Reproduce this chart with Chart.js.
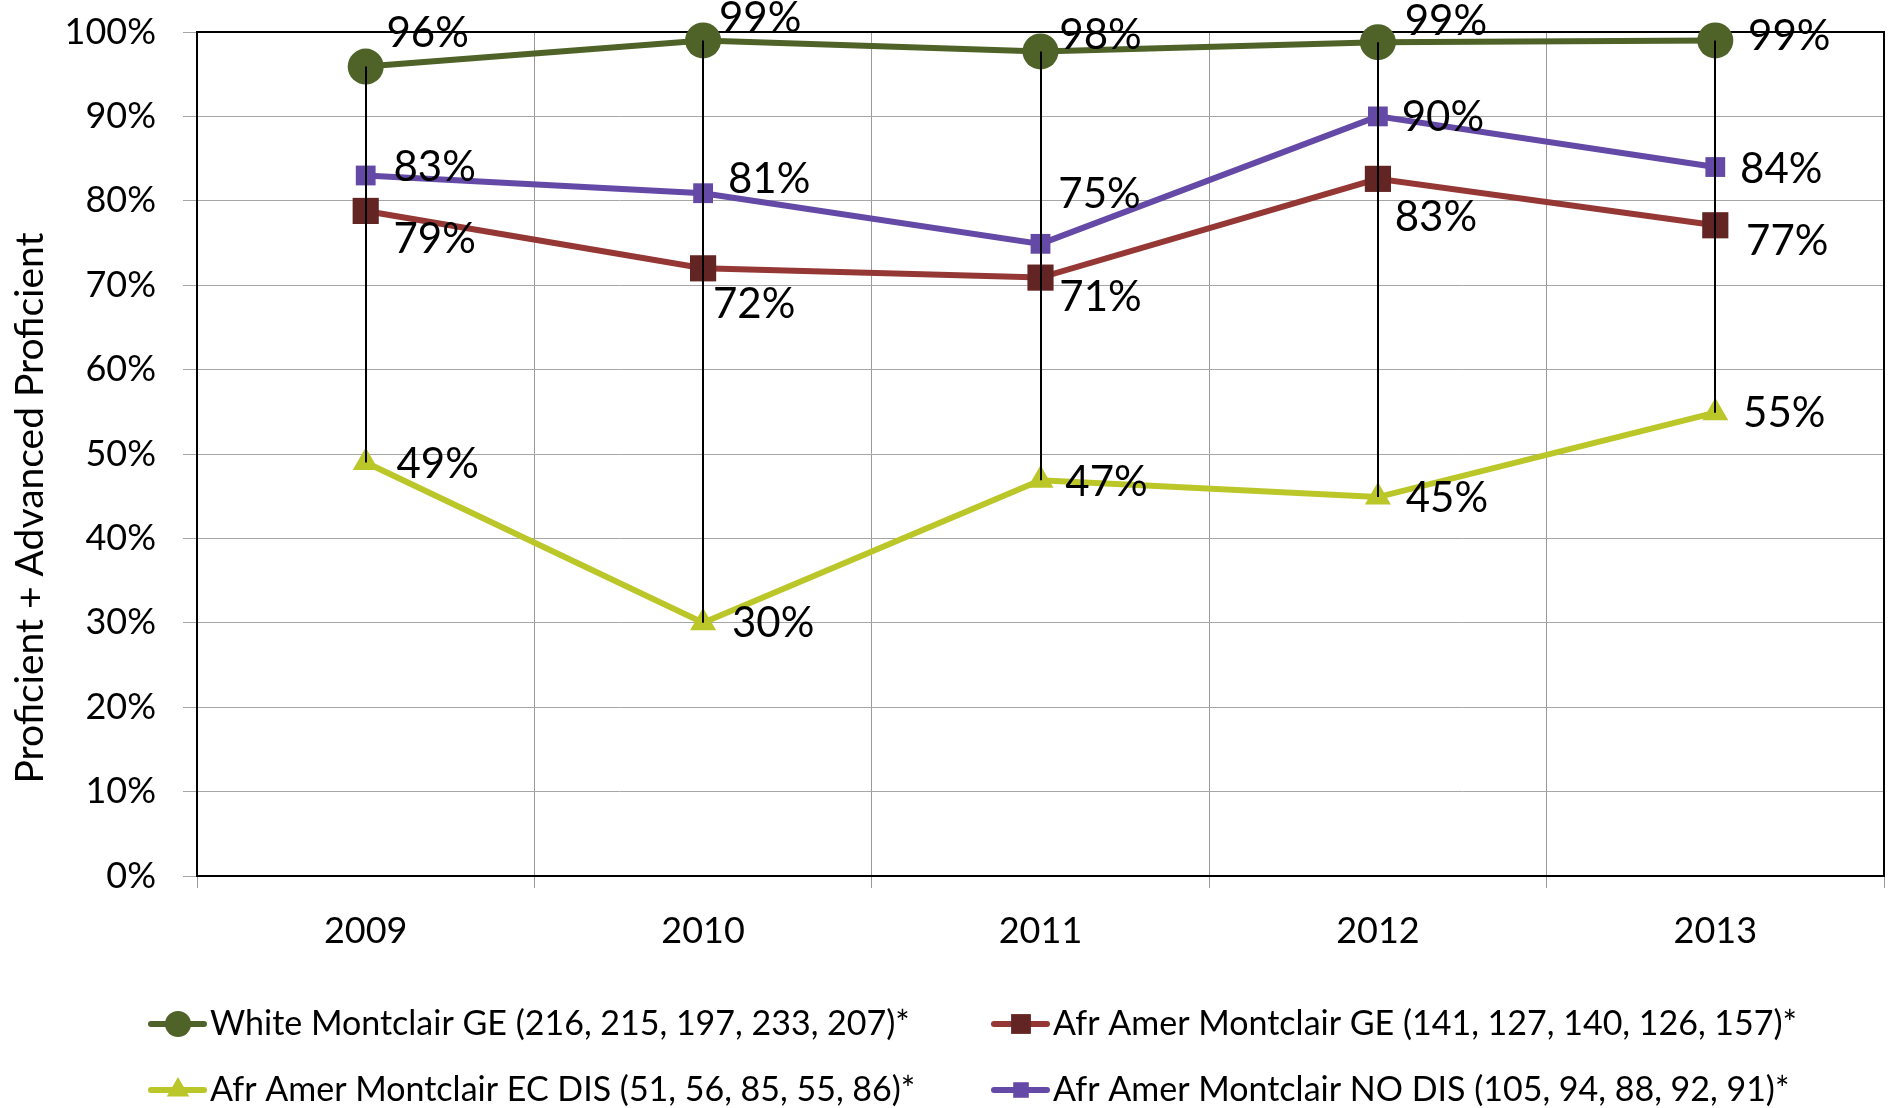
<!DOCTYPE html>
<html>
<head>
<meta charset="utf-8">
<script src="https://cdn.jsdelivr.net/npm/chart.js@4/dist/chart.umd.min.js"></script>
<style>
  html, body { margin: 0; padding: 0; background: #fff; }
  #wrap { width: 1891px; height: 1108px; }
</style>
</head>
<body>
<div id="wrap"><canvas id="c" width="1891" height="1108"></canvas></div>
<script>
// data
const years = ['2009', '2010', '2011', '2012', '2013'];
const whiteGE = [95.9, 99.0, 97.7, 98.8, 99.0];
const afrGE = [78.8, 72.0, 70.9, 82.6, 77.1];
const afrEcDis = [49.0, 30.0, 46.9, 44.9, 54.9];
const afrNoDis = [83.0, 80.9, 74.9, 90.0, 84.0];
const seriesNames = [
    'White Montclair GE (216, 215, 197, 233, 207)*',
    'Afr Amer Montclair GE (141, 127, 140, 126, 157)*',
    'Afr Amer Montclair EC DIS (51, 56, 85, 55, 86)*',
    'Afr Amer Montclair NO DIS (105, 94, 88, 92, 91)*'
];
const yTicks = [0, 10, 20, 30, 40, 50, 60, 70, 80, 90, 100];
const yTitle = 'Proficient + Advanced Proficient';

const FONT = 'Lato, "Open Sans", sans-serif';

// label nudges (px) per series / point, as placed in the original
const labelNudge = [
    [[62, -33], [57, -22], [60, -16], [68, -21], [74, -4]],
    [[69, 29], [51, 36], [60, 20], [58, 39], [72, 16]],
    [[72, 2], [70, 1], [66, 2], [69, 1], [69, 1]],
    [[69, -8], [66, -14], [59, -49], [65, 1], [66, 2]]
];

const styles = [
    { line: '#4F6228', fill: '#4F6228', shape: 'circle', r: 18, lr: 13 },
    { line: '#953735', fill: '#632523', shape: 'rect', r: 18.5, lr: 14 },
    { line: '#BBC628', fill: '#BBC628', shape: 'triangle', r: 15, lr: 13 },
    { line: '#6449A6', fill: '#6449A6', shape: 'rect', r: 14, lr: 11 }
];
const allSeries = [whiteGE, afrGE, afrEcDis, afrNoDis];

function drawMarker(ctx, shape, x, y, r) {
    ctx.beginPath();
    if (shape === 'circle') {
        ctx.arc(x, y, r, 0, Math.PI * 2);
    } else if (shape === 'rect') {
        const s = r * Math.SQRT1_2;
        ctx.rect(x - s, y - s, 2 * s, 2 * s);
    } else {
        ctx.moveTo(x, y - r);
        ctx.lineTo(x + r * 0.866, y + r / 2);
        ctx.lineTo(x - r * 0.866, y + r / 2);
        ctx.closePath();
    }
    ctx.fill();
}

const extras = {
    id: 'extras',
    beforeDatasetsDraw(chart) {
        const { ctx, chartArea: a } = chart;
        ctx.save();
        ctx.strokeStyle = '#000'; ctx.lineWidth = 2;
        ctx.beginPath();
        ctx.moveTo(a.left, a.top); ctx.lineTo(a.right, a.top); ctx.lineTo(a.right, a.bottom);
        ctx.stroke();
        ctx.restore();
    },
    afterDatasetsDraw(chart) {
        const { ctx, scales: { x, y } } = chart;
        ctx.save();
        // high-low lines
        ctx.strokeStyle = '#000'; ctx.lineWidth = 2;
        years.forEach((yr, i) => {
            const vals = allSeries.map(s => s[i]);
            const px = Math.round(x.getPixelForValue(i));
            ctx.beginPath();
            ctx.moveTo(px, y.getPixelForValue(Math.max(...vals)));
            ctx.lineTo(px, y.getPixelForValue(Math.min(...vals)));
            ctx.stroke();
        });
        // data labels
        ctx.fillStyle = '#000';
        ctx.font = '42px ' + FONT;
        ctx.textAlign = 'center'; ctx.textBaseline = 'middle';
        allSeries.forEach((s, si) => {
            s.forEach((v, i) => {
                const n = labelNudge[si][i];
                ctx.fillText(Math.round(v) + '%', x.getPixelForValue(i) + n[0], y.getPixelForValue(v) + n[1]);
            });
        });
        ctx.restore();
    },
    afterDraw(chart) {
        const ctx = chart.ctx;
        ctx.save();
        // y axis title
        ctx.translate(30, 508);
        ctx.rotate(-Math.PI / 2);
        ctx.fillStyle = '#000';
        ctx.font = '39px ' + FONT;
        ctx.textAlign = 'center'; ctx.textBaseline = 'middle';
        ctx.fillText(yTitle, 0, 0);
        ctx.restore();

        // legend
        const spots = [[148, 1024], [991, 1024], [148, 1090], [991, 1090]];
        ctx.save();
        ctx.font = '34px ' + FONT;
        ctx.textBaseline = 'middle'; ctx.textAlign = 'left';
        seriesNames.forEach((name, i) => {
            const [lx, ly] = spots[i];
            const st = styles[i];
            ctx.strokeStyle = st.line; ctx.lineWidth = 6; ctx.lineCap = 'round';
            ctx.beginPath(); ctx.moveTo(lx + 3, ly); ctx.lineTo(lx + 56, ly); ctx.stroke();
            ctx.fillStyle = st.fill;
            drawMarker(ctx, st.shape, lx + 30, ly, st.lr);
            ctx.fillStyle = '#000';
            ctx.fillText(name, lx + 62, ly);
        });
        ctx.restore();
    }
};

const datasets = allSeries.map((s, i) => ({
    label: seriesNames[i],
    data: s,
    borderColor: styles[i].line,
    borderWidth: 6,
    pointStyle: styles[i].shape,
    pointRadius: styles[i].r,
    pointHoverRadius: styles[i].r,
    pointBackgroundColor: styles[i].fill,
    pointBorderColor: styles[i].fill,
    pointBorderWidth: 0,
    tension: 0,
    clip: false
}));

new Chart(document.getElementById('c'), {
    type: 'line',
    data: { labels: years, datasets },
    options: {
        responsive: false,
        animation: false,
        events: [],
        layout: { autoPadding: false, padding: { top: 32, right: 7, left: 0, bottom: 0 } },
        plugins: { legend: { display: false }, tooltip: { enabled: false } },
        scales: {
            x: {
                offset: true,
                grid: { offset: true, color: '#999', lineWidth: 1, tickLength: 12 },
                border: { color: '#000', width: 2 },
                ticks: { color: '#000', font: { family: FONT, size: 36 }, padding: 22 },
                afterFit: s => { s.height = 232; s.paddingLeft = 0; s.paddingRight = 0; }
            },
            y: {
                min: 0, max: 100,
                afterBuildTicks: s => { s.ticks = yTicks.map(v => ({ value: v })); },
                grid: { color: '#a6a6a6', lineWidth: 1, tickLength: 14 },
                border: { color: '#000', width: 2 },
                ticks: { color: '#000', font: { family: FONT, size: 36 }, padding: 27, callback: v => v + '%' },
                afterFit: s => { s.width = 197; s.paddingTop = 0; s.paddingBottom = 0; }
            }
        }
    },
    plugins: [extras]
});
</script>
</body>
</html>
